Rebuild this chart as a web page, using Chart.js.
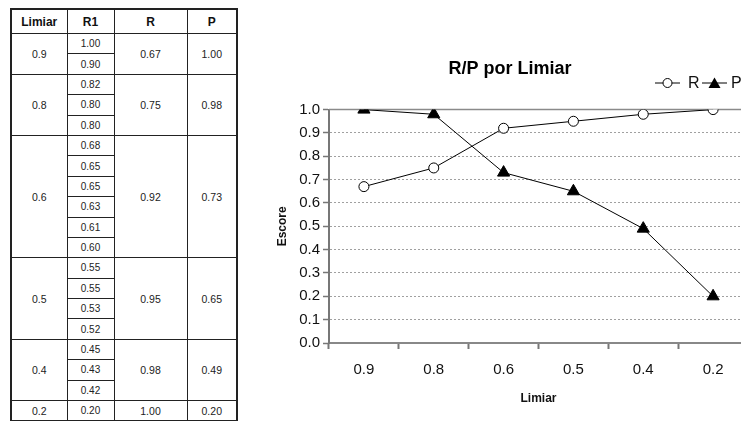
<!DOCTYPE html>
<html><head><meta charset="utf-8">
<script src="https://cdn.jsdelivr.net/npm/chart.js@4/dist/chart.umd.min.js"></script>
<style>
html,body{margin:0;padding:0;background:#fff;overflow:hidden;width:741px;height:421px;}
body{position:relative;}
#tbl{position:absolute;left:10px;top:8px;border-collapse:collapse;table-layout:fixed;font-family:Arial,"Liberation Sans",sans-serif;color:#222;border:2px solid #222;}
#tbl td,#tbl th{border:1px solid #222;padding:0;text-align:center;vertical-align:middle;font-size:10px;font-weight:normal;}
#tbl th{font-weight:bold;font-size:12px;height:23px;color:#111;}
#tbl tr.sub td{height:19.4px;}
#tbl td.big{font-size:10.5px;}
#wrap{position:absolute;left:250px;top:0;width:516px;height:421px;}
</style></head>
<body>
<table id="tbl"><colgroup><col style="width:56px"><col style="width:47px"><col style="width:73px"><col style="width:50px"></colgroup><thead><tr><th>Limiar</th><th>R1</th><th>R</th><th>P</th></tr></thead><tbody id="tb"></tbody></table>
<div id="wrap"><canvas id="c" width="516" height="421"></canvas></div>
<script>
// ---- data ----
const categories = ['0.9', '0.8', '0.6', '0.5', '0.4', '0.2'];
const seriesR = [0.67, 0.75, 0.92, 0.95, 0.98, 1.00];
const seriesP = [1.00, 0.98, 0.73, 0.65, 0.49, 0.20];
const r1Values = [
  [1.00, 0.90],
  [0.82, 0.80, 0.80],
  [0.68, 0.65, 0.65, 0.63, 0.61, 0.60],
  [0.55, 0.55, 0.53, 0.52],
  [0.45, 0.43, 0.42],
  [0.20]
];
const yTickMin = 0, yTickMax = 1, yTickStep = 0.1;

// ---- table ----
const tb = document.getElementById('tb');
categories.forEach((cat, i) => {
  const subs = r1Values[i];
  subs.forEach((v, j) => {
    const tr = document.createElement('tr');
    tr.className = 'sub';
    if (j === 0) {
      const a = document.createElement('td'); a.rowSpan = subs.length; a.textContent = cat; a.className = 'big'; tr.appendChild(a);
    }
    const b = document.createElement('td'); b.textContent = v.toFixed(2); tr.appendChild(b);
    if (j === 0) {
      const c = document.createElement('td'); c.rowSpan = subs.length; c.textContent = seriesR[i].toFixed(2); c.className = 'big'; tr.appendChild(c);
      const d = document.createElement('td'); d.rowSpan = subs.length; d.textContent = seriesP[i].toFixed(2); d.className = 'big'; tr.appendChild(d);
    }
    tb.appendChild(tr);
  });
});

// ---- chart ----
const FONT = 'Arial, "Liberation Sans", sans-serif';
const extras = {
  id: 'extras',
  beforeDatasetsDraw(chart) {
    const ctx = chart.ctx, y = chart.scales.y, a = chart.chartArea;
    const py = y.getPixelForValue(1);
    ctx.save();
    ctx.strokeStyle = '#8a8a8a'; ctx.lineWidth = 1.5;
    ctx.beginPath(); ctx.moveTo(a.left, py); ctx.lineTo(a.right, py); ctx.stroke();
    ctx.restore();
  },
  afterDraw(chart) {
    const ctx = chart.ctx;
    ctx.save();
    const ly = 83;
    ctx.strokeStyle = '#000'; ctx.lineWidth = 1;
    // R item
    ctx.beginPath(); ctx.moveTo(405, ly); ctx.lineTo(430, ly); ctx.stroke();
    ctx.beginPath(); ctx.arc(417.5, ly, 4.5, 0, Math.PI * 2); ctx.fillStyle = '#fff'; ctx.fill(); ctx.stroke();
    ctx.fillStyle = '#111'; ctx.font = '16px ' + FONT; ctx.textBaseline = 'middle'; ctx.textAlign = 'left';
    ctx.fillText('R', 438, ly + 1);
    // P item
    ctx.beginPath(); ctx.moveTo(452, ly); ctx.lineTo(477, ly); ctx.stroke();
    ctx.fillStyle = '#000';
    ctx.beginPath(); ctx.moveTo(464.5, ly - 5.5); ctx.lineTo(470.5, ly + 5); ctx.lineTo(458.5, ly + 5); ctx.closePath(); ctx.fill();
    ctx.fillStyle = '#111';
    ctx.fillText('P', 481, ly + 1);
    ctx.restore();
  }
};

new Chart(document.getElementById('c'), {
  type: 'line',
  data: {
    labels: categories,
    datasets: [
      { label: 'R', data: seriesR, borderColor: '#000', borderWidth: 1, backgroundColor: '#fff',
        pointStyle: 'circle', pointRadius: 5, pointBorderWidth: 1, pointBorderColor: '#000', pointBackgroundColor: '#fff', tension: 0 },
      { label: 'P', data: seriesP, borderColor: '#000', borderWidth: 1, backgroundColor: '#000',
        pointStyle: 'triangle', pointRadius: 7, pointBorderWidth: 1, pointBorderColor: '#000', pointBackgroundColor: '#000', tension: 0 }
    ]
  },
  options: {
    responsive: false, animation: false, devicePixelRatio: 1,
    layout: { padding: { left: 22, right: 18, top: 0, bottom: 0 } },
    plugins: {
      legend: { display: false }, tooltip: { enabled: false },
      title: { display: true, text: 'R/P por Limiar', color: '#000', font: { family: FONT, size: 18, weight: 'bold' }, padding: { top: 58, bottom: 30 } }
    },
    scales: {
      x: {
        type: 'category', offset: true,
        grid: { display: true, drawOnChartArea: false, offset: true, tickLength: 6, tickColor: '#777', tickWidth: 2 },
        border: { display: true, color: '#888', width: 2 },
        ticks: { color: '#111', font: { family: FONT, size: 15 }, padding: 12, maxRotation: 0 },
        title: { display: true, text: 'Limiar', color: '#111', font: { family: FONT, size: 12, weight: 'bold' }, padding: { top: 4, bottom: 15 } },
        afterFit(s) { s.height = 78; }
      },
      y: {
        min: yTickMin, max: yTickMax,
        grid: { color: '#a0a0a0', lineWidth: 1, tickLength: 6, tickColor: '#777', tickWidth: 1.5, tickBorderDash: [] },
        border: { display: true, color: '#777', width: 2, dash: [2, 2] },
        ticks: { stepSize: yTickStep, color: '#111', font: { family: FONT, size: 15 }, padding: 3, callback: v => Number(v).toFixed(1) },
        title: { display: true, text: 'Escore', color: '#111', font: { family: FONT, size: 12, weight: 'bold' }, padding: { top: 3, bottom: 4 } },
        afterFit(s) { s.width = 57; }
      }
    }
  },
  plugins: [extras]
});
</script>
</body></html>
